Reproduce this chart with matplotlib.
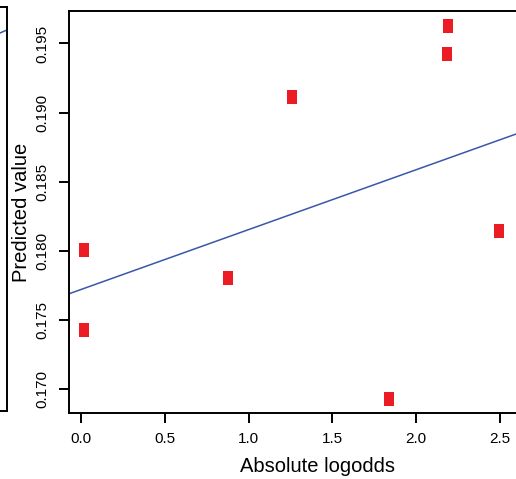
import numpy as np
import matplotlib
matplotlib.use("Agg")
import matplotlib.pyplot as plt

plt.rcParams['font.family'] = ['Liberation Sans', 'DejaVu Sans']

# data
abs_logodds = [0.016, 0.016, 0.876, 1.26, 2.189, 2.185, 2.495, 1.84]
predicted = [0.18005, 0.17427, 0.17803, 0.19115, 0.19627, 0.19426, 0.18143, 0.16928]
x_ticks = [0.0, 0.5, 1.0, 1.5, 2.0, 2.5]
y_ticks = [0.170, 0.175, 0.180, 0.185, 0.190, 0.195]

# neighbouring panel (only its right edge is visible)
left_line_x = [0.0, 1.0]
left_line_y = [-0.28, 0.32]

W, H = 516, 479
fig = plt.figure(figsize=(W / 100, H / 100), dpi=100)

# cropped neighbour panel
axl = fig.add_axes([(6.7 - 400) / W, (H - 411) / H, 400 / W, (411 - 7) / H])
axl.plot(left_line_x, left_line_y, color='#3a56a8', lw=1.1)
axl.set_xlim(0.0, 1.0)
axl.set_ylim(-1.0, 0.4)
axl.set_xticks([])
axl.set_yticks([])
for s in axl.spines.values():
    s.set_linewidth(1.4)

# main panel, its right part is cut off by the figure edge
right_px = 567
ax = fig.add_axes([69 / W, (H - 413) / H, (right_px - 69) / W, (413 - 11) / H])
ax.scatter(abs_logodds, predicted, marker=[(-0.38, -0.5), (0.38, -0.5), (0.38, 0.5), (-0.38, 0.5)],
           s=13.5 ** 2 * 0.52, color='#ec1c24', linewidths=0, zorder=3)

slope, intercept = np.polyfit(abs_logodds, predicted, 1)
xl = np.array([-0.2, 3.2])
ax.plot(xl, intercept + slope * xl, color='#3a56a8', lw=1.1, zorder=2)

ax.set_xlim(-0.073, 2.90)
ax.set_ylim(0.16826, 0.19735)
ax.set_xticks(x_ticks)
ax.set_xticklabels(['%.1f' % v for v in x_ticks])
ax.set_yticks(y_ticks)
ax.set_yticklabels(['%.3f' % v for v in y_ticks], rotation=90, va='center')
ax.tick_params(direction='out', length=7, width=1.4, pad=7, labelsize=11)
for s in ax.spines.values():
    s.set_linewidth(1.4)

ax.set_xlabel('Absolute logodds', fontsize=14.5)
ax.set_ylabel('Predicted value', fontsize=14.5)
ax.xaxis.set_label_coords(0.5, -53 / 402, transform=ax.transAxes)
ax.yaxis.set_label_coords(-47 / (right_px - 69), 0.5, transform=ax.transAxes)
ax.xaxis.label.set_va('center')
ax.yaxis.label.set_va('center')

fig.savefig('out.png', dpi=100)
